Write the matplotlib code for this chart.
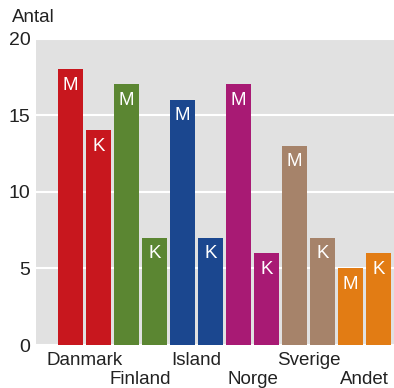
import matplotlib
matplotlib.use("Agg")
import matplotlib.pyplot as plt

countries = ["Danmark", "Finland", "Island", "Norge", "Sverige", "Andet"]
genders = ["M", "K"]
values_m = [18, 17, 16, 17, 13, 5]
values_k = [14, 7, 7, 6, 7, 6]
colors = ["#c8171e", "#5b8632", "#1b478f", "#a81a74", "#a6836a", "#e27c14"]
yticks = [0, 5, 10, 15, 20]

plt.rcParams['font.family'] = ['Liberation Sans', 'DejaVu Sans']

fig = plt.figure(figsize=(3.94, 3.88), dpi=100)
ax = fig.add_axes([36/394, 43/388, 1 - 36/394, (345 - 38.5)/388])
ax.set_facecolor("#e1e1e1")

width = 25/28
for i, c in enumerate(countries):
    for j, (g, v) in enumerate(zip(genders, [values_m[i], values_k[i]])):
        x = 2*i + j
        ax.bar(x, v, width=width, color=colors[i], zorder=3)
        ax.annotate(g, (x, v), xytext=(0, -5.5), textcoords="offset points",
                    ha="center", va="top", color="white", fontsize=13.5, zorder=4)

ax.set_ylim(0, 20)
ax.set_xlim(-1.232, 11.55)
ax.set_yticks(yticks)
ax.set_yticklabels([str(t) for t in yticks], fontsize=14, color="#222222")
ax.tick_params(axis="y", length=0, pad=4)
ax.yaxis.grid(True, color="white", linewidth=1.5, zorder=1)
ax.set_axisbelow(True)
for s in ax.spines.values():
    s.set_visible(False)

xpos = [2*i + 0.5 for i in range(len(countries))]
ax.set_xticks(xpos)
ax.set_xticklabels(["" for _ in countries])
ax.tick_params(axis="x", length=0)
for i, c in enumerate(countries):
    off = -7 if i % 2 == 0 else -26
    ax.annotate(c, (xpos[i], 0), xytext=(0, off * 0.72), textcoords="offset points",
                ha="center", va="top", fontsize=13.5, color="#222222",
                annotation_clip=False)

fig.text(12/394, 1 - 18/388, "Antal", ha="left", va="center", fontsize=13.5, color="#222222")

fig.savefig("out.png", dpi=100)
